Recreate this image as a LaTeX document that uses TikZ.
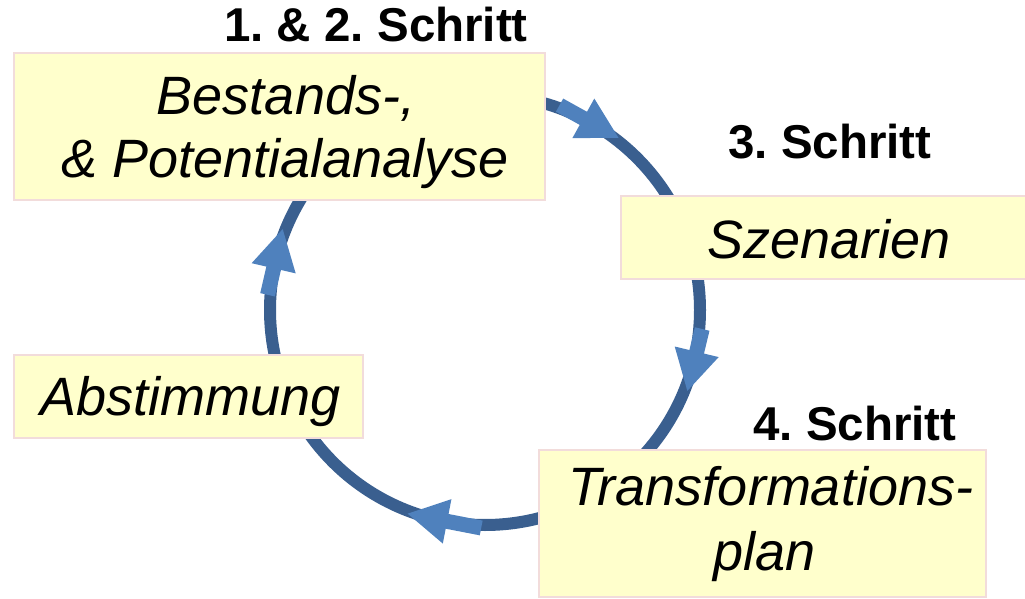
\documentclass[tikz,border=0pt]{standalone}
\usepackage{fontspec}
\setmainfont{Liberation Sans}
\usetikzlibrary{arrows.meta,calc}
\definecolor{ringdark}{HTML}{3A5F8F}
\definecolor{ringlight}{HTML}{4F81BD}
\definecolor{boxfill}{HTML}{FFFFCC}
\definecolor{boxline}{HTML}{F2DCDB}
\frenchspacing
\begin{document}
\begin{tikzpicture}[x=1pt,y=1pt,
  box/.style={draw=boxline, fill=boxfill, line width=2pt, inner sep=0pt},
  boxtext/.style={font=\fontsize{54}{64}\selectfont\itshape, anchor=base, inner sep=0pt},
  heading/.style={font=\fontsize{47.5}{56}\selectfont\bfseries, anchor=base, inner sep=0pt},
  ring/.style={draw=ringdark, line width=12pt},
  ringarrow/.style={draw=ringlight, line width=15pt, -{Triangle[width=42pt,length=41pt]}}]
\useasboundingbox (0,0) rectangle (1025,598);
\coordinate (c) at (485,288);
\draw[ring] (c) circle[radius=215];
\foreach \a/\b [count=\i] in {70/52, -5/-22, -91/-111, 176/158} {
  \coordinate (s\i) at ($(c)+(\a:218)$);
  \coordinate (e\i) at ($(c)+(\b:218)$);
  \draw[ringarrow] (s\i) -- (e\i);
}
% boxes
\node[box, minimum width=531pt, minimum height=147pt] (b1) at (279.5,471.5) {};
\node[box, minimum width=409pt, minimum height=83pt] (b2) at (825.5,360.5) {};
\node[box, minimum width=349pt, minimum height=83pt] (b3) at (188.5,201.5) {};
\node[box, minimum width=447pt, minimum height=147pt] (b4) at (762.5,74.5) {};
% box texts
\node[boxtext] (t1a) at (286,483) {Bestands-,};
\node[boxtext] (t1b) at (285,420) {\& Potentialanalyse};
\node[boxtext] (t2) at (829,340) {Szenarien};
\node[boxtext] (t3) at (191,183) {Abstimmung};
\node[boxtext] (t4a) at (771,93) {Transformations-};
\node[boxtext] (t4b) at (765,28) {plan};
% headings
\node[heading] (h1) at (376,556) {1. \& 2. Schritt};
\node[heading] (h2) at (830,439) {3. Schritt};
\node[heading] (h3) at (855,158) {4. Schritt};
\end{tikzpicture}
\end{document}
